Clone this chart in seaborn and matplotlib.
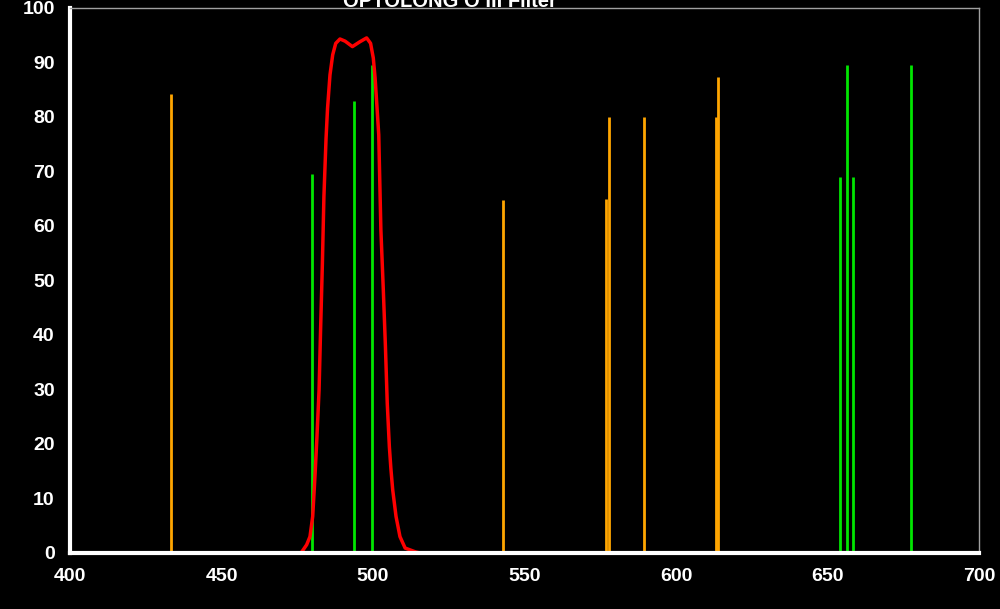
import matplotlib
matplotlib.use("Agg")
import matplotlib.pyplot as plt
import seaborn as sns
import pandas as pd

# filter transmission curve (nm, %)
filter_wl = [476.0, 476.5, 478.1, 479.2, 480.1, 480.9, 481.5, 482.2, 482.7, 483.3,
             483.8, 484.5, 485.0, 485.8, 486.7, 487.7, 489.1, 490.8, 493.2, 495.7,
             497.9, 499.2, 500.1, 500.7, 501.2, 501.9, 502.1, 502.6, 503.4, 504.1,
             504.7, 505.4, 505.9, 506.5, 507.6, 508.9, 510.6, 514.0, 515.5]
filter_t = [0.0, 0.2, 1.5, 3.0, 6.7, 14.6, 21.3, 29.9, 40.9, 53.2,
            65.4, 76.0, 81.6, 87.7, 91.4, 93.5, 94.3, 93.9, 92.9, 93.8,
            94.5, 93.5, 90.8, 87.1, 82.8, 76.7, 71.6, 59.3, 48.3, 37.9,
            27.5, 19.5, 15.5, 11.6, 6.7, 3.0, 0.9, 0.2, 0.0]

# emission lines
orange_wl = [433.3, 543.0, 577.0, 578.0, 589.3, 613.2, 614.0]
orange_h = [84.2, 64.8, 65.0, 80.0, 80.0, 80.0, 87.3]
green_wl = [480.0, 493.7, 499.8, 654.0, 656.3, 658.3, 677.5]
green_h = [69.5, 82.9, 89.5, 69.0, 89.5, 69.0, 89.5]

x_ticks = [400, 450, 500, 550, 600, 650, 700]
y_ticks = [0, 10, 20, 30, 40, 50, 60, 70, 80, 90, 100]

sns.set_style("dark")
plt.rcParams['font.family'] = ['Liberation Sans', 'DejaVu Sans']

fig = plt.figure(figsize=(10, 6.09), dpi=100, facecolor='black')
ax = fig.add_axes([0.07, 0.092, 0.909, 0.895])
ax.set_facecolor('black')

ax.vlines(orange_wl, 0, orange_h, color='#FFA500', linewidth=2)
ax.vlines(green_wl, 0, green_h, color='#00E600', linewidth=2)

df = pd.DataFrame({'wl': filter_wl, 't': filter_t})
sns.lineplot(data=df, x='wl', y='t', color='#FF0000', linewidth=2.5, ax=ax)

ax.set_xlim(400, 700)
ax.set_ylim(0, 100)
ax.set_xticks(x_ticks)
ax.set_yticks(y_ticks)
ax.set_xlabel('')
ax.set_ylabel('')
ax.grid(False)

for s in ['left', 'bottom']:
    ax.spines[s].set_color('white')
    ax.spines[s].set_linewidth(3)
    ax.spines[s].set_visible(True)
for s in ['top', 'right']:
    ax.spines[s].set_color('#A0A0A0')
    ax.spines[s].set_linewidth(1)
    ax.spines[s].set_visible(True)

ax.tick_params(axis='both', direction='in', colors='white', width=2, length=5,
               labelsize=14, pad=11)
for lab in ax.get_xticklabels() + ax.get_yticklabels():
    lab.set_fontweight('bold')

fig.text(0.45, 0.9885, 'OPTOLONG O III Filter', color='white', fontsize=14.5,
         fontweight='bold', ha='center', va='baseline')

fig.savefig('out.png', dpi=100, facecolor='black')
